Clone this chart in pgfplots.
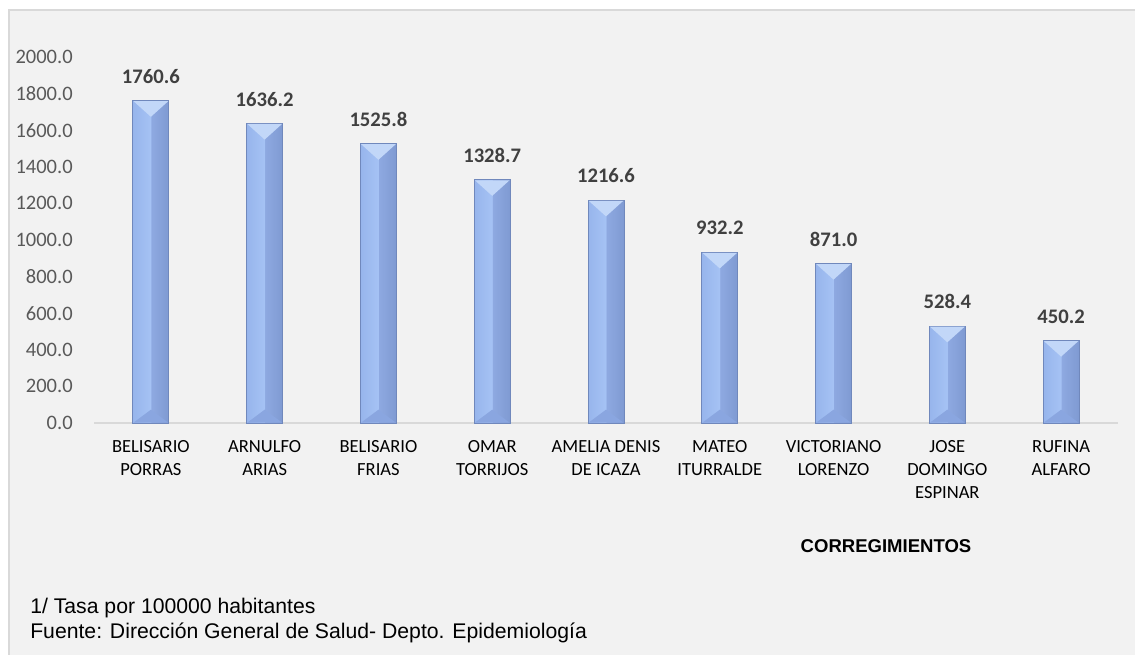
\documentclass[border=0pt]{standalone}
\usepackage{pgfplots}
\usepackage{pgfplotstable}
\pgfplotsset{compat=1.18}
\usepackage{fontspec}
\setmainfont{Carlito}
\newfontfamily\arial{Liberation Sans}
\definecolor{bg}{HTML}{F2F2F2}
\definecolor{framegray}{HTML}{D9D9D9}
\definecolor{axisgray}{HTML}{D9D9D9}
\definecolor{tickgray}{HTML}{595959}
\definecolor{labgray}{HTML}{404040}
\definecolor{barL1}{HTML}{97B5EC}
\definecolor{barL2}{HTML}{A5C2F4}
\definecolor{barR1}{HTML}{8EA9E1}
\definecolor{barR2}{HTML}{7F9AD2}
\definecolor{bartop}{HTML}{C2D7F8}
\definecolor{barbot}{HTML}{8AA6E0}
\definecolor{baredge}{HTML}{7088BC}
\pgfdeclarehorizontalshading{barshade}{100bp}{color(0bp)=(barL1); color(25bp)=(barL1); color(49.5bp)=(barL2); color(50.5bp)=(barR1); color(75bp)=(barR2); color(100bp)=(barR2)}
\pgfdeclareplotmark{bevtop}{%
  \pgfpathmoveto{\pgfqpoint{-13pt}{-0.3pt}}%
  \pgfpathlineto{\pgfqpoint{13pt}{-0.3pt}}%
  \pgfpathlineto{\pgfqpoint{0pt}{-12pt}}%
  \pgfpathclose\pgfusepathqfill}
\pgfdeclareplotmark{bevbot}{%
  \pgfpathmoveto{\pgfqpoint{-13pt}{0.3pt}}%
  \pgfpathlineto{\pgfqpoint{13pt}{0.3pt}}%
  \pgfpathlineto{\pgfqpoint{0pt}{10pt}}%
  \pgfpathclose\pgfusepathqfill}
\pgfplotsset{barsty/.style={ybar, bar width=27pt, bar shift=0pt, draw=baredge, line width=0.6pt, shading=barshade,
  nodes near coords,
  every node near coord/.append style={font=\bfseries\fontsize{15.5}{18}\selectfont, text=labgray, inner sep=0pt, yshift=12.75pt}}}
\pgfplotstableread{
x y
0 1760.6
1 1636.2
2 1525.8
3 1328.7
4 1216.6
5 932.2
6 871.0
7 528.4
8 450.2
}\datatab
\begin{document}
\begin{tikzpicture}
\useasboundingbox (0,0) rectangle (851.25pt,-490.5pt);
\fill[white] (0,0) rectangle (851.25pt,-490.5pt);
\filldraw[fill=bg, draw=framegray, line width=1.2pt] (6.75pt,-7.5pt) rectangle (870pt,-510pt);
\begin{axis}[
  at={(70.5pt,-317.25pt)}, anchor=south west,
  scale only axis, width=768pt, height=274.5pt,
  xmin=-0.5, xmax=8.5, ymin=0, ymax=2000,
  clip=false,
  axis lines*=left,
  x axis line style={draw=axisgray, line width=0.9pt},
  y axis line style={draw=none},
  major tick length=0pt,
  ytick={0,200,...,2000},
  xtick={0,...,8},
  xticklabels={BELISARIO\\PORRAS, ARNULFO\\ARIAS, BELISARIO\\FRIAS, OMAR\\TORRIJOS, AMELIA DENIS\\DE ICAZA, MATEO\\ITURRALDE, VICTORIANO\\LORENZO, JOSE\\DOMINGO\\ESPINAR, RUFINA\\ALFARO},
  xticklabel style={align=center, anchor=north, inner sep=0pt, yshift=-12.75pt, font=\fontsize{13.9}{17.25}\selectfont, text=black},
  yticklabel style={anchor=east, inner sep=0pt, xshift=-15.75pt, font=\fontsize{15.4}{18}\selectfont, text=tickgray},
  /pgf/number format/fixed,
  /pgf/number format/fixed zerofill,
  /pgf/number format/precision=1,
  /pgf/number format/1000 sep={},
  /pgf/number format/assume math mode=true,
]
\addplot[barsty] coordinates {(0,1760.6)};
\addplot[barsty] coordinates {(1,1636.2)};
\addplot[barsty] coordinates {(2,1525.8)};
\addplot[barsty] coordinates {(3,1328.7)};
\addplot[barsty] coordinates {(4,1216.6)};
\addplot[barsty] coordinates {(5,932.2)};
\addplot[barsty] coordinates {(6,871.0)};
\addplot[barsty] coordinates {(7,528.4)};
\addplot[barsty] coordinates {(8,450.2)};
\addplot[only marks, mark=bevtop, color=bartop] table[x=x, y=y] {\datatab};
\addplot[only marks, mark=bevbot, color=barbot] coordinates {(0,0) (1,0) (2,0) (3,0) (4,0) (5,0) (6,0) (7,0) (8,0)};
\end{axis}
\node[anchor=base, inner sep=0pt, font=\arial\bfseries\fontsize{13.9}{16}\selectfont] at (664.5pt,-414pt) {CORREGIMIENTOS};
\node[anchor=base west, inner sep=0pt, font=\arial\fontsize{15.9}{18}\selectfont] at (22.5pt,-459.75pt) {1/ Tasa por 100000 habitantes};
\node[anchor=base west, inner sep=0pt, font=\arial\fontsize{15.9}{18}\selectfont] at (22.5pt,-478.5pt) {Fuente: Dirección General de Salud- Depto. Epidemiología};
\end{tikzpicture}
\end{document}
